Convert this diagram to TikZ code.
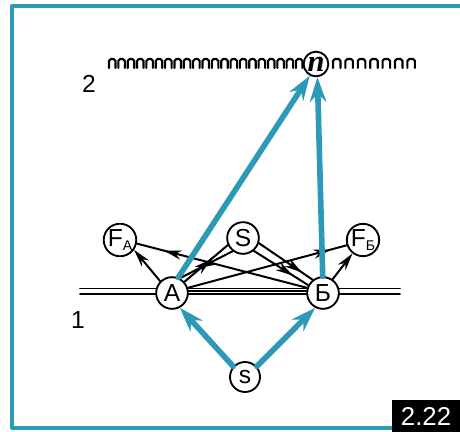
\documentclass[tikz,border=0pt]{standalone}
\usepackage{fontspec}
\setmainfont{Liberation Sans}
\newfontfamily\serifit{Liberation Serif}
\usetikzlibrary{arrows.meta,calc,decorations.markings}

\definecolor{figblue}{HTML}{2C9AB7}

\begin{document}
\begin{tikzpicture}[x=0.03cm, y=-0.03cm, line cap=round, line join=round]

% ---------------- styles ----------------
\tikzset{
  pt/.style={draw, circle, fill=white, line width=1.6pt, inner sep=0pt, minimum size=0.95cm,
             font=\fontsize{21}{23}\selectfont},
  ptsmall/.style={pt, minimum size=0.82cm},
  link/.style={line width=1.7pt},
  tip/.style={-{Stealth[length=15pt, width=8pt]}},
  midtip/.style={postaction={decorate}, decoration={markings,
      mark=at position #1 with {\arrow{Stealth[length=15pt, width=8pt]}}}},
  beam/.style={-{Stealth[length=21pt, width=14pt]}, line width=4.8pt, draw=figblue},
  comb/.style={line width=1.8pt, rounded corners=1.6pt},
  label/.style={font=\fontsize{21}{23}\selectfont}
}
\def\sub#1{\raisebox{-0.35ex}{\fontsize{12}{13}\selectfont #1}}

\useasboundingbox (0,0) rectangle (460,432);

% ---------------- frame ----------------
\draw[figblue, line width=2.8pt] (460,6) -- (12,6) -- (12,428) -- (460,428);
\fill (392,400) rectangle (460,432);
\node[white, font=\fontsize{22}{24}\selectfont] (fig) at (426,416) {2.22};

% ---------------- plane 2 (comb) ----------------
\foreach \i in {0,...,20}
  \draw[comb] ({109+9.35*\i},68) -- ++(0,-9) -- ++(6.5,0) -- ++(0,9);
\foreach \i in {0,...,6}
  \draw[comb] ({333+12.4*\i},68) -- ++(0,-9) -- ++(7.5,0) -- ++(0,9);
\node[label] (two) at (89,84) {2};

% ---------------- line 1 (rail) ----------------
\draw[line width=1.4pt] (80,288.5) -- (400,288.5);
\draw[line width=1.4pt] (80,294) -- (400,294);
\node[label] (one) at (78,320) {1};

% ---------------- points ----------------
\node[pt, minimum size=0.74cm] (n) at (316,64)
  {\serifit\bfseries\itshape\fontsize{26}{26}\selectfont n};
\node[ptsmall] (FA) at (120,240) {F\sub{A}};
\node[pt] (S) at (243,238) {S};
\node[ptsmall] (FB) at (363,240) {F\sub{Б}};
\node[pt] (A) at (172,293) {A};
\node[pt] (B) at (323,293) {Б};
\node[pt, minimum size=0.9cm] (s) at (245,377) {s};

% ---------------- black links ----------------
\draw[link, tip] (A.135) -- (FA.-35);
\draw[link, midtip=0.84] (B.162) -- (FA.-12);
\draw[link, midtip=0.62] (A.42) -- (S.205);
\draw[link, midtip=0.62] (S.232) -- (A.62);
\draw[link, midtip=0.8] (S.-18) -- (B.128);
\draw[link, midtip=0.72] (S.-50) -- (B.152);
\draw[link, midtip=0.9] (A.18) -- (FB.198);
\draw[link, tip] (B.55) -- (FB.-128);
\draw[link] (A.8) -- (B.172);

% ---------------- blue rays ----------------
\draw[beam] (s.138) -- (A.-62);
\draw[beam] (s.42) -- (B.-118);
\draw[beam] (A.68) -- (n.-118);
\draw[beam] (B.91) -- (n.-84);

\end{tikzpicture}
\end{document}
